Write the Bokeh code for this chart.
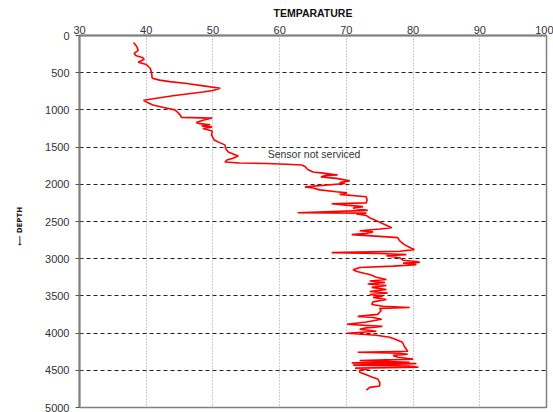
from bokeh.plotting import figure
from bokeh.models import Range1d, FixedTicker, Label
from bokeh.embed import file_html
from bokeh.resources import INLINE

# ---- data ----
X_TICKS = [30, 40, 50, 60, 70, 80, 90, 100]
Y_TICKS = [0, 500, 1000, 1500, 2000, 2500, 3000, 3500, 4000, 4500, 5000]

DEPTH = [94, 150, 200, 240, 268, 300, 320, 360, 390, 440, 500, 575, 600, 620, 645,
         680, 710, 740, 760, 810, 870, 900, 935, 970, 1000, 1040, 1070, 1100, 1110,
         1140, 1170, 1185, 1200, 1215, 1230, 1250, 1285, 1340, 1405, 1440, 1470,
         1520, 1566, 1600, 1620, 1650, 1673, 1700, 1713, 1720, 1730, 1740, 1760,
         1800, 1834, 1850, 1874, 1880, 1900, 1920, 1954, 1975, 1990, 2035, 2050,
         2075, 2100, 2115, 2135, 2168, 2210, 2250, 2262, 2280, 2300, 2320, 2350,
         2383, 2388, 2400, 2420, 2450, 2490, 2530, 2584, 2600, 2624, 2640, 2660,
         2677, 2700, 2717, 2760, 2811, 2850, 2878, 2900, 2918, 2930, 2945, 2960,
         2990, 3020, 3040, 3052, 3060, 3080, 3100, 3119, 3150, 3173, 3200, 3213,
         3250, 3280, 3300, 3320, 3340, 3360, 3385, 3414, 3440, 3460, 3481, 3500,
         3520, 3548, 3580, 3615, 3640, 3655, 3668, 3700, 3748, 3775, 3790, 3815,
         3850, 3882, 3909, 3930, 3949, 3976, 4003, 4029, 4056, 4090, 4123, 4180,
         4244, 4257, 4270, 4284, 4300, 4324, 4350, 4370, 4391, 4400, 4410, 4431,
         4444, 4460, 4471, 4480, 4500, 4525, 4560, 4592, 4618, 4660, 4712, 4730,
         4766]
TEMP = [38.1, 38.6, 38.8, 38.2, 38.4, 39.5, 39.7, 38.8, 40.0, 40.6, 40.8, 40.9, 42.0,
        43.5, 46.1, 48.8, 51.1, 50.0, 48.5, 44.0, 39.6, 40.2, 41.0, 42.8, 44.3, 44.8,
        45.1, 45.3, 49.9, 48.5, 47.5, 48.0, 49.6, 48.3, 49.9, 48.5, 49.9, 49.8, 50.2,
        51.0, 51.8, 51.9, 52.3, 53.2, 53.8, 53.0, 52.1, 51.8, 54.0, 58.0, 61.0, 63.3,
        63.8, 64.2, 65.0, 66.5, 68.7, 67.0, 66.2, 68.5, 70.5, 69.0, 69.8, 63.8, 65.0,
        66.0, 68.5, 70.1, 69.0, 73.0, 73.1, 73.0, 67.8, 70.0, 72.5, 71.0, 73.2, 62.7,
        73.0, 71.5, 73.0, 73.5, 74.5, 75.5, 76.8, 75.0, 72.0, 74.0, 73.0, 70.8, 75.0,
        77.7, 78.0, 78.7, 79.5, 80.2, 78.0, 67.8, 75.0, 79.0, 76.0, 78.0, 78.5, 80.7,
        81.0, 78.5, 80.5, 77.0, 72.0, 71.0, 71.6, 72.8, 73.5, 74.5, 76.0, 73.5, 75.8,
        73.2, 76.0, 73.8, 76.0, 73.5, 76.2, 73.5, 75.5, 74.0, 76.0, 74.0, 73.8, 75.5,
        79.5, 75.0, 75.2, 74.7, 71.7, 74.0, 75.3, 73.0, 70.1, 75.4, 73.0, 72.0, 74.5,
        70.1, 74.5, 76.5, 77.5, 78.4, 78.7, 79.2, 71.7, 78.0, 79.2, 77.0, 77.7, 80.0,
        72.0, 79.5, 70.8, 80.5, 71.0, 79.5, 80.8, 71.3, 73.5, 72.0, 72.0, 73.0, 73.9,
        74.7, 75.0, 75.0, 73.5, 73.0]

p = figure(width=553, height=412,
           x_range=Range1d(30, 100), y_range=Range1d(5000, 0),
           x_axis_location="above",
           output_backend="svg", toolbar_location=None,
           min_border_left=79, min_border_right=7,
           min_border_top=35, min_border_bottom=5,
           background_fill_color="white", border_fill_color="white")

p.line(TEMP, DEPTH, line_color="#ff0000", line_width=1.6)

FONT = "Liberation Sans"

xa = p.xaxis[0]
xa.ticker = FixedTicker(ticks=X_TICKS)
xa.axis_label = "TEMPARATURE"
xa.axis_label_text_font = FONT
xa.axis_label_text_font_style = "bold"
xa.axis_label_text_font_size = "10.5px"
xa.axis_label_text_color = "#111111"
xa.axis_label_standoff = 4
xa.major_label_text_font = FONT
xa.major_label_text_font_size = "11px"
xa.major_label_text_color = "#333333"
xa.major_label_standoff = 2
xa.major_tick_out = 0
xa.major_tick_in = 0
xa.minor_tick_out = 0
xa.minor_tick_in = 0
xa.axis_line_color = "#808080"
xa.axis_line_width = 2

ya = p.yaxis[0]
ya.ticker = FixedTicker(ticks=Y_TICKS)
ya.axis_label = "\u27f5     DEPTH"
ya.axis_label_text_font = "DejaVu Sans"
ya.axis_label_text_font_style = "bold"
ya.axis_label_text_font_size = "7px"
ya.axis_label_text_color = "#111111"
ya.axis_label_standoff = 18
ya.major_label_text_font = FONT
ya.major_label_text_font_size = "11px"
ya.major_label_text_color = "#333333"
ya.major_label_standoff = 6
ya.major_tick_out = 4
ya.major_tick_in = 0
ya.minor_tick_out = 0
ya.minor_tick_in = 0
ya.major_tick_line_color = "#555555"
ya.axis_line_color = "#808080"
ya.axis_line_width = 2

p.xgrid.ticker = FixedTicker(ticks=X_TICKS[1:-1])
p.xgrid.grid_line_color = "#9a9a9a"
p.xgrid.grid_line_dash = "1 2"
p.xgrid.grid_line_width = 1

p.ygrid.ticker = FixedTicker(ticks=Y_TICKS[1:-1])
p.ygrid.grid_line_color = "#222222"
p.ygrid.grid_line_dash = "4 3"
p.ygrid.grid_line_width = 1

p.outline_line_color = "#808080"
p.outline_line_width = 1.5

p.add_layout(Label(x=58.2, y=1593, text="Sensor not serviced",
                   text_font=FONT, text_font_size="10.5px",
                   text_color="#333333", text_baseline="middle"))

open("out.html", "w").write(file_html(p, INLINE))
